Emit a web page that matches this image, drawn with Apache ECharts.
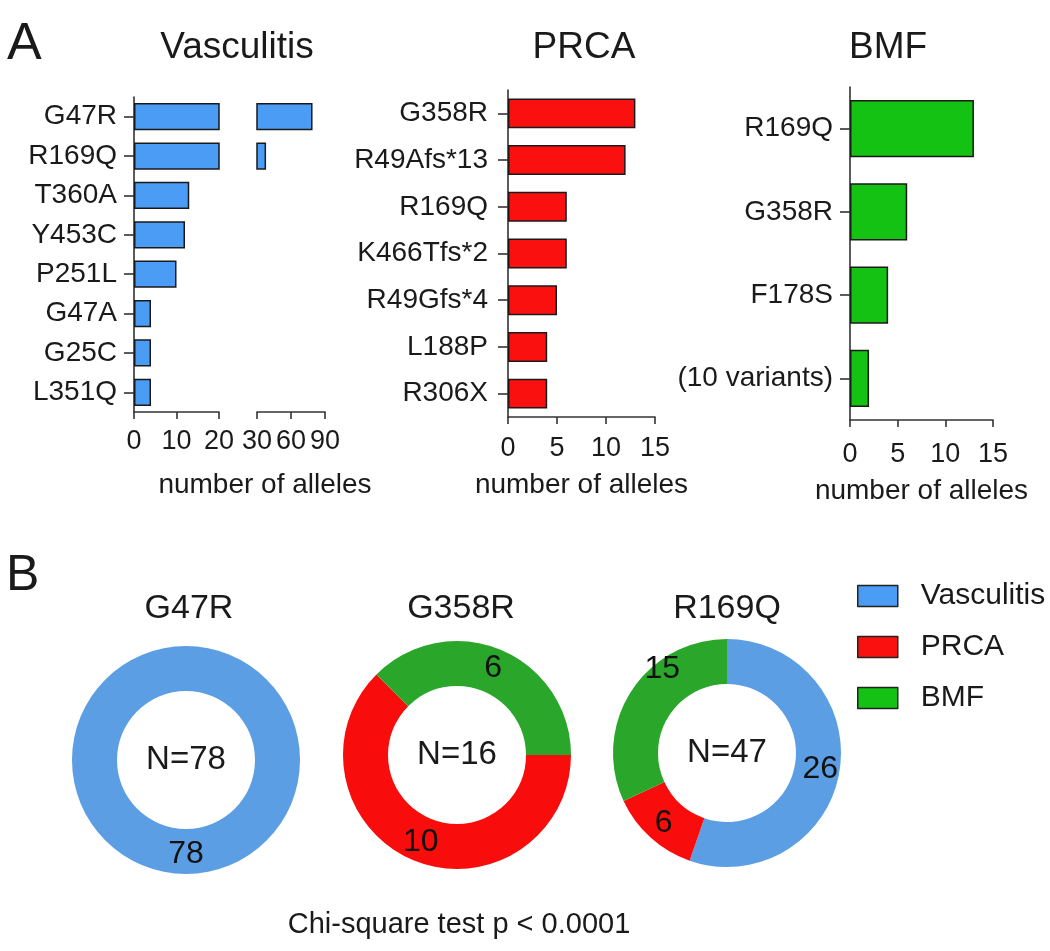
<!DOCTYPE html>
<html>
<head>
<meta charset="utf-8">
<script src="https://cdn.jsdelivr.net/npm/echarts@6/dist/echarts.min.js"></script>
<style>
html,body{margin:0;padding:0;background:#fff;}
#chart{width:1050px;height:951px;}
</style>
</head>
<body>
<div id="chart"></div>
<script>
// ---- data ----
const vascCategories = ['G47R','R169Q','T360A','Y453C','P251L','G47A','G25C','L351Q'];
const vascValues = [79, 38, 13, 12, 10, 4, 4, 4];
const prcaCategories = ['G358R','R49Afs*13','R169Q','K466Tfs*2','R49Gfs*4','L188P','R306X'];
const prcaValues = [13, 12, 6, 6, 5, 4, 4];
const bmfCategories = ['R169Q','G358R','F178S','(10 variants)'];
const bmfValues = [13, 6, 4, 2];

const donutTitles = ['G47R','G358R','R169Q'];
const donutVasc = [78, 0, 26];
const donutPrca = [0, 10, 6];
const donutBmf = [0, 6, 15];
const groupNames = ['Vasculitis','PRCA','BMF'];

// ---- styles ----
const FONT = '"Liberation Sans", Arial, sans-serif';
const TXT = '#1a1a1a';
const barColors = {Vasculitis:'#4a9cf4', PRCA:'#fb1010', BMF:'#14c214'};
const donutColors = {Vasculitis:'#5b9ee4', PRCA:'#f80c0c', BMF:'#2aa62a'};

const axisLine = {show:true, lineStyle:{color:'#333', width:1.6}};
const axisTickOut = {show:true, length:7, lineStyle:{color:'#333', width:1.6}};

function valueX(grid, min, max, interval, margin, extra) {
  return Object.assign({
    gridIndex: grid, type:'value', min:min, max:max, interval:interval, position:'bottom',
    axisLine: axisLine, axisTick: axisTickOut, splitLine:{show:false},
    axisLabel:{fontSize:27, color:TXT, fontFamily:FONT, margin:margin}
  }, extra || {});
}
function catY(grid, data, margin, show) {
  return {
    gridIndex: grid, type:'category', data:data, inverse:true, show: show,
    axisLine: axisLine,
    axisTick:{show:true, alignWithLabel:true, length:10, lineStyle:{color:'#333', width:1.6}},
    axisLabel:{fontSize:28, color:TXT, fontFamily:FONT, margin:margin}
  };
}
function barSeries(xi, yi, data, color, gap) {
  return {
    type:'bar', xAxisIndex:xi, yAxisIndex:yi, data:data, barCategoryGap:gap,
    clip:true, silent:true,
    itemStyle:{color:color, borderColor:'#1a1a1a', borderWidth:1.5}
  };
}

const donutCenters = [[186,760],[457,755],[727,753]];
const donutStart = [90, 0, 90];
const labelOffsets = {'2-BMF':[15,-33]};

const pieSeries = donutTitles.map(function(t, i){
  const vals = [donutVasc[i], donutPrca[i], donutBmf[i]];
  const data = [];
  vals.forEach(function(v, k){
    if (v > 0) {
      const item = {name:groupNames[k], value:v, itemStyle:{color:donutColors[groupNames[k]]}};
      const off = labelOffsets[i + '-' + groupNames[k]];
      if (off) item.label = {offset: off};
      data.push(item);
    }
  });
  return {
    type:'pie', center:donutCenters[i], radius:[69,114], startAngle:donutStart[i], clockwise:true,
    silent:true, avoidLabelOverlap:false,
    itemStyle:{borderWidth:0},
    label:{show:true, position:'inside', formatter:'{c}', fontSize:32, color:'#111', fontFamily:FONT},
    labelLine:{show:false},
    emphasis:{disabled:true},
    data:data
  };
});

function txt(x, y, s, size, align) {
  return {type:'text', x:x, y:y, silent:true,
    style:{text:s, fontSize:size, fontFamily:FONT, fill:TXT, textAlign:align||'center', textVerticalAlign:'middle'}};
}

const graphics = [
  txt(7, 45, 'A', 52, 'left'),
  txt(6, 576, 'B', 50, 'left'),
  txt(237, 48, 'Vasculitis', 37),
  txt(584, 48, 'PRCA', 37),
  txt(888, 48, 'BMF', 37),
  txt(265, 485, 'number of alleles', 28),
  txt(459, 925, 'Chi-square test p < 0.0001', 29)
];
donutTitles.forEach(function(t, i){
  const tx = [189, 461, 727][i];
  graphics.push(txt(tx, 609, t, 34));
  graphics.push(txt(donutCenters[i][0], donutCenters[i][1], 'N=' + (donutVasc[i] + donutPrca[i] + donutBmf[i]), 33));
});

const chart = echarts.init(document.getElementById('chart'), null, {renderer:'canvas'});
chart.setOption({
  backgroundColor:'#fff',
  animation:false,
  textStyle:{fontFamily:FONT},
  grid:[
    {left:134, top:97, width:85, height:315},
    {left:257, top:97, width:68, height:315},
    {left:508, top:90, width:147, height:327},
    {left:850, top:87, width:143, height:333}
  ],
  xAxis:[
    valueX(0, 0, 20, 10, 16),
    valueX(1, 30, 90, 30, 16),
    valueX(2, 0, 15, 5, 18, {name:'number of alleles', nameLocation:'middle', nameGap:54,
      nameTextStyle:{fontSize:28, color:TXT, fontFamily:FONT}}),
    valueX(3, 0, 15, 5, 21, {name:'number of alleles', nameLocation:'middle', nameGap:57,
      nameTextStyle:{fontSize:28, color:TXT, fontFamily:FONT}})
  ],
  yAxis:[
    catY(0, vascCategories, 17, true),
    catY(1, vascCategories, 17, false),
    catY(2, prcaCategories, 20, true),
    catY(3, bmfCategories, 17, true)
  ],
  legend:{
    orient:'vertical', left:857, top:581, padding:0,
    itemWidth:40, itemHeight:21, itemGap:21, icon:'rect',
    itemStyle:{borderColor:'#222', borderWidth:1.5},
    textStyle:{fontSize:30, color:TXT, fontFamily:FONT, padding:[0,0,0,18]},
    selectedMode:false,
    data: groupNames.map(function(n){ return {name:n, itemStyle:{color:barColors[n]}}; })
  },
  series:[
    barSeries(0, 0, vascValues, barColors.Vasculitis, '31%'),
    barSeries(1, 1, vascValues.map(function(v){ return v > 30 ? v : '-'; }), barColors.Vasculitis, '31%'),
    barSeries(2, 2, prcaValues, barColors.PRCA, '36%'),
    barSeries(3, 3, bmfValues, barColors.BMF, '31%')
  ].concat(pieSeries),
  graphic: graphics
});
</script>
</body>
</html>
